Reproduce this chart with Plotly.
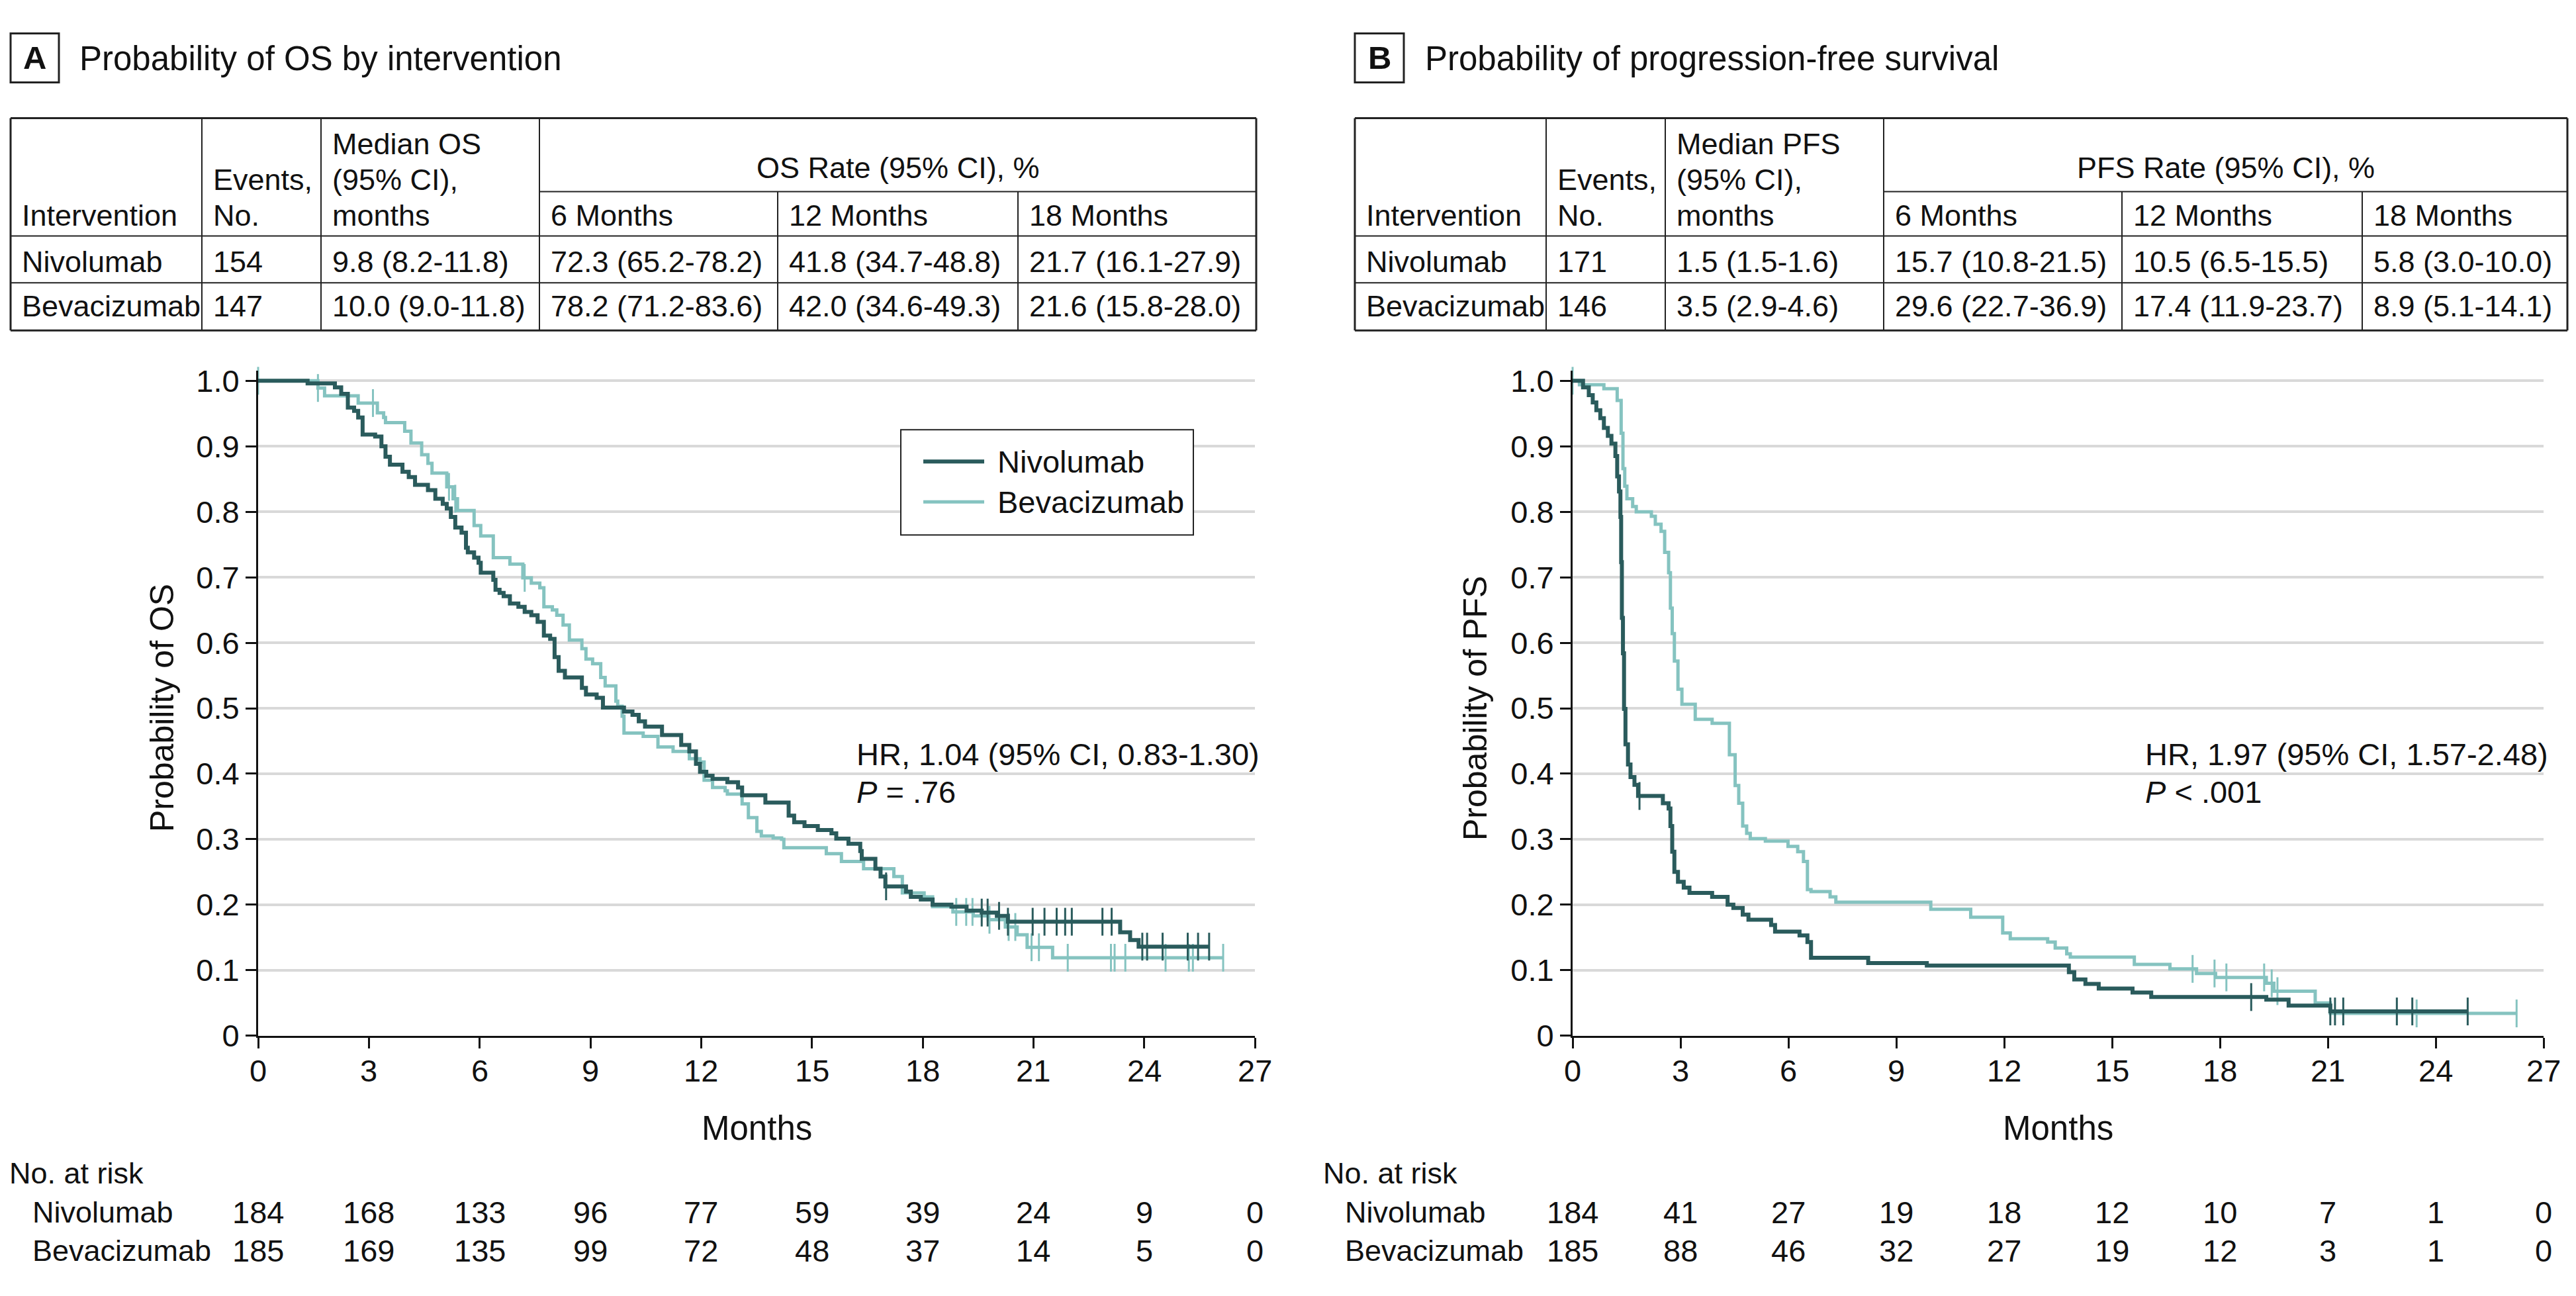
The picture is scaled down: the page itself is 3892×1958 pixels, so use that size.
import plotly.graph_objects as go

# ---------------- data ----------------
series_names = ["Nivolumab", "Bevacizumab"]

os_nivo_t = [0, 1.34, 2.08, 2.25, 2.43, 2.60, 2.71, 2.83, 3.17, 3.34, 3.45, 3.57, 3.91, 4.08, 4.25, 4.60,
             4.80, 5.00, 5.11, 5.22, 5.34, 5.51, 5.63, 5.68, 5.85, 5.97, 6.03, 6.37, 6.43, 6.54, 6.65, 6.82,
             7.05, 7.22, 7.40, 7.57, 7.74, 7.91, 8.03, 8.14, 8.31, 8.77, 8.88, 9.17, 9.34, 9.91, 10.14, 10.31,
             10.48, 10.94, 11.46, 11.68, 11.86, 11.97, 12.14, 12.31, 12.71, 13.00, 13.11, 13.74, 14.37, 14.52,
             14.80, 15.16, 15.53, 15.66, 15.99, 16.31, 16.35, 16.72, 16.86, 16.99, 17.55, 17.68, 17.95, 18.27,
             18.78, 19.19, 19.60, 20.01, 20.31, 23.35, 23.62, 23.85]
os_nivo_s = [1.0, 0.996, 0.990, 0.980, 0.959, 0.954, 0.944, 0.918, 0.915, 0.900, 0.884, 0.872, 0.861, 0.853,
             0.841, 0.833, 0.820, 0.812, 0.805, 0.792, 0.776, 0.768, 0.745, 0.738, 0.730, 0.722, 0.707, 0.696,
             0.681, 0.676, 0.671, 0.660, 0.655, 0.647, 0.642, 0.632, 0.611, 0.606, 0.578, 0.557, 0.547, 0.531,
             0.521, 0.516, 0.501, 0.495, 0.490, 0.480, 0.472, 0.459, 0.444, 0.434, 0.415, 0.403, 0.397, 0.392,
             0.387, 0.379, 0.367, 0.356, 0.336, 0.326, 0.320, 0.314, 0.309, 0.301, 0.293, 0.282, 0.270, 0.255,
             0.243, 0.228, 0.220, 0.212, 0.208, 0.200, 0.197, 0.191, 0.188, 0.183, 0.174, 0.158, 0.146, 0.136]
os_nivo_end = 25.76
os_nivo_cens = [17.01, 19.60, 19.76, 20.07, 20.31, 20.98, 21.30, 21.63, 21.86, 22.04, 22.87, 23.12, 23.95,
                24.08, 24.50, 25.18, 25.46, 25.76]

os_beva_t = [0, 1.62, 1.80, 2.71, 3.23, 3.40, 3.45, 3.97, 4.14, 4.43, 4.60, 4.71, 5.11, 5.28, 5.40, 5.85,
             6.03, 6.37, 6.82, 7.17, 7.40, 7.63, 7.74, 7.97, 8.09, 8.26, 8.43, 8.77, 8.88, 9.06, 9.28, 9.40,
             9.69, 9.74, 9.86, 9.91, 10.43, 10.83, 11.24, 11.68, 11.97, 12.08, 12.31, 12.65, 12.71, 13.11,
             13.28, 13.51, 13.63, 13.95, 14.18, 14.24, 15.39, 15.80, 16.40, 17.22, 17.45, 18.04, 18.27, 18.82,
             19.37, 19.78, 20.24, 20.56, 20.83, 21.52]
os_beva_s = [1.0, 0.989, 0.977, 0.966, 0.951, 0.944, 0.936, 0.923, 0.905, 0.887, 0.874, 0.859, 0.838, 0.820,
             0.802, 0.779, 0.763, 0.730, 0.720, 0.699, 0.691, 0.684, 0.655, 0.650, 0.642, 0.627, 0.604, 0.591,
             0.575, 0.568, 0.547, 0.534, 0.511, 0.503, 0.488, 0.462, 0.457, 0.441, 0.434, 0.423, 0.418, 0.390,
             0.379, 0.374, 0.369, 0.354, 0.333, 0.312, 0.305, 0.302, 0.300, 0.287, 0.278, 0.266, 0.255, 0.243,
             0.218, 0.212, 0.197, 0.189, 0.183, 0.177, 0.166, 0.154, 0.135, 0.119]
os_beva_end = 26.14
os_beva_cens = [0.0, 1.62, 3.11, 5.17, 5.34, 7.22, 18.91, 19.18, 19.35, 19.81, 20.33, 20.51, 20.95, 21.15,
                21.93, 23.10, 23.20, 23.49, 24.58, 25.21, 25.32, 26.14]

pfs_nivo_t = [0, 0.29, 0.45, 0.56, 0.66, 0.77, 0.87, 0.98, 1.08, 1.19, 1.24, 1.29, 1.33, 1.35, 1.37, 1.40,
              1.43, 1.47, 1.54, 1.61, 1.72, 1.82, 2.51, 2.67, 2.72, 2.77, 2.83, 2.93, 3.09, 3.25, 3.88, 4.31,
              4.47, 4.73, 4.89, 5.52, 5.63, 6.31, 6.53, 6.63, 8.22, 9.85, 13.80, 13.95, 14.26, 14.63, 15.57,
              16.09, 19.29, 19.91, 21.07]
pfs_nivo_s = [1.0, 0.990, 0.978, 0.967, 0.955, 0.943, 0.928, 0.916, 0.904, 0.885, 0.854, 0.831, 0.792, 0.723,
              0.638, 0.584, 0.499, 0.445, 0.414, 0.395, 0.383, 0.366, 0.355, 0.347, 0.320, 0.281, 0.250, 0.235,
              0.226, 0.218, 0.212, 0.200, 0.195, 0.185, 0.177, 0.169, 0.159, 0.153, 0.143, 0.119, 0.111, 0.107,
              0.097, 0.086, 0.079, 0.072, 0.066, 0.059, 0.055, 0.046, 0.037]
pfs_nivo_end = 24.89
pfs_nivo_cens = [1.86, 18.87, 21.07, 21.20, 21.43, 22.92, 23.35, 24.89]

pfs_beva_t = [0, 0.19, 0.87, 1.24, 1.35, 1.40, 1.45, 1.51, 1.67, 1.77, 2.19, 2.30, 2.46, 2.56, 2.67, 2.72,
              2.77, 2.83, 2.93, 3.04, 3.41, 3.88, 4.36, 4.52, 4.62, 4.73, 4.84, 4.94, 5.36, 5.99, 6.26, 6.42,
              6.53, 6.63, 7.16, 7.32, 9.96, 11.07, 11.96, 12.17, 13.21, 13.42, 13.74, 13.84, 15.62, 16.61,
              17.35, 17.88, 19.29, 19.50, 20.65, 21.07]
pfs_beva_s = [1.0, 0.994, 0.988, 0.970, 0.920, 0.866, 0.839, 0.820, 0.808, 0.800, 0.793, 0.781, 0.770, 0.738,
              0.707, 0.653, 0.614, 0.572, 0.529, 0.506, 0.483, 0.477, 0.429, 0.382, 0.355, 0.320, 0.309, 0.301,
              0.297, 0.289, 0.281, 0.266, 0.223, 0.220, 0.212, 0.204, 0.193, 0.181, 0.157, 0.148, 0.143, 0.134,
              0.125, 0.120, 0.109, 0.102, 0.095, 0.089, 0.080, 0.068, 0.050, 0.034]
pfs_beva_end = 26.25
pfs_beva_cens = [0.0, 17.24, 17.85, 18.18, 19.23, 19.44, 19.60, 23.47, 26.25]

os_header = ["Intervention", "Events,|No.", "Median OS|(95% CI),|months", "6 Months", "12 Months", "18 Months"]
os_span = "OS Rate (95% CI), %"
os_rows = [["Nivolumab", "154", "9.8 (8.2-11.8)", "72.3 (65.2-78.2)", "41.8 (34.7-48.8)", "21.7 (16.1-27.9)"],
           ["Bevacizumab", "147", "10.0 (9.0-11.8)", "78.2 (71.2-83.6)", "42.0 (34.6-49.3)", "21.6 (15.8-28.0)"]]
pfs_header = ["Intervention", "Events,|No.", "Median PFS|(95% CI),|months", "6 Months", "12 Months", "18 Months"]
pfs_span = "PFS Rate (95% CI), %"
pfs_rows = [["Nivolumab", "171", "1.5 (1.5-1.6)", "15.7 (10.8-21.5)", "10.5 (6.5-15.5)", "5.8 (3.0-10.0)"],
            ["Bevacizumab", "146", "3.5 (2.9-4.6)", "29.6 (22.7-36.9)", "17.4 (11.9-23.7)", "8.9 (5.1-14.1)"]]

risk_times = [0, 3, 6, 9, 12, 15, 18, 21, 24, 27]
os_risk_nivo = [184, 168, 133, 96, 77, 59, 39, 24, 9, 0]
os_risk_beva = [185, 169, 135, 99, 72, 48, 37, 14, 5, 0]
pfs_risk_nivo = [184, 41, 27, 19, 18, 12, 10, 7, 1, 0]
pfs_risk_beva = [185, 88, 46, 32, 27, 19, 12, 3, 1, 0]

x_ticks = [0, 3, 6, 9, 12, 15, 18, 21, 24, 27]
x_ticktext = ["0", "3", "6", "9", "12", "15", "18", "21", "24", "27"]
y_ticks = [0, 0.1, 0.2, 0.3, 0.4, 0.5, 0.6, 0.7, 0.8, 0.9, 1.0]
y_ticktext = ["0", "0.1", "0.2", "0.3", "0.4", "0.5", "0.6", "0.7", "0.8", "0.9", "1.0"]

hr_texts = [["HR, 1.04 (95% CI, 0.83-1.30)", "<i>P</i> = .76"],
            ["HR, 1.97 (95% CI, 1.57-2.48)", "<i>P</i> < .001"]]
titles = [("A", "Probability of OS by intervention"), ("B", "Probability of progression-free survival")]
y_titles = ["Probability of OS", "Probability of PFS"]

# ---------------- style ----------------
W, H = 3876, 1942                 # figure size in px
# observed placement of the figure in the final picture: picture = offset + scale * figure px
OX, SX, OY, SY = 8.0, 1.0, 17.4, 0.9815
FONT = "Liberation Sans, Arial, sans-serif"
FS = 47
FS_TAB = 45
DARK = "#2a5b5c"
LIGHT = "#85c3c0"
GRID = "#d9d9d9"
INK = "#111"


def px(x, clamp=False):
    v = (x - OX) / SX / W
    if clamp:
        v = min(max(v, 2.0 / W), 1 - 2.0 / W)
    return v


def py(y, clamp=False):
    v = 1 - (y - OY) / SY / H
    if clamp:
        v = min(max(v, 2.0 / H), 1 - 2.0 / H)
    return v


def text_ann(text, x, base, size=FS, anchor="left", bold=False):
    t = "<b>%s</b>" % text if bold else text
    xp = px(x)
    if anchor == "left":
        xp = max(xp, 0.0)
    return dict(x=xp, y=py(base - 0.35 * size), xref="paper", yref="paper", text=t, showarrow=False,
                xanchor=anchor, yanchor="middle",
                font=dict(size=size, color=INK, family=FONT))


def surv_at(times, surv, t):
    v = surv[0]
    for ti, si in zip(times, surv):
        if ti <= t:
            v = si
    return v


def hline(x0, x1, y, w):
    return dict(type="line", xref="paper", yref="paper", x0=px(x0, True), x1=px(x1, True),
                y0=py(y), y1=py(y), line=dict(color="#222", width=w))


def vline(x, y0, y1, w):
    return dict(type="line", xref="paper", yref="paper", x0=px(x, True), x1=px(x, True),
                y0=py(y0), y1=py(y1), line=dict(color="#222", width=w))


fig = go.Figure()
shapes = []
annotations = []

panels = [
    dict(xa="x", ya="y", x0=390, x1=1896,
         curves=[(os_nivo_t, os_nivo_s, os_nivo_end, os_nivo_cens, DARK, 6),
                 (os_beva_t, os_beva_s, os_beva_end, os_beva_cens, LIGHT, 5)],
         header=os_header, span=os_span, rows=os_rows,
         cols=[16, 305, 485, 815, 1175, 1538, 1898],
         risk=[os_risk_nivo, os_risk_beva], risk_lbl_x=(12, 47), hr_x=1292,
         box=(16, 89), title_x=118, ytitle_x=245),
    dict(xa="x2", ya="y2", x0=2376, x1=3843,
         curves=[(pfs_nivo_t, pfs_nivo_s, pfs_nivo_end, pfs_nivo_cens, DARK, 6),
                 (pfs_beva_t, pfs_beva_s, pfs_beva_end, pfs_beva_cens, LIGHT, 5)],
         header=pfs_header, span=pfs_span, rows=pfs_rows,
         cols=[2047, 2336, 2516, 2846, 3206, 3569, 3879],
         risk=[pfs_risk_nivo, pfs_risk_beva], risk_lbl_x=(1997, 2030), hr_x=3239,
         box=(2047, 2121), title_x=2151, ytitle_x=2229),
]

Y0PX, Y1PX = 1564, 574
YMAX = 1.015
ydom = [py(Y0PX), py(Y0PX - YMAX * (Y0PX - Y1PX))]

for i, p in enumerate(panels):
    for (tt, ss, tend, cens, col, lw) in reversed(p["curves"]):
        fig.add_trace(go.Scatter(x=tt + [tend], y=ss + [ss[-1]], mode="lines", line_shape="hv",
                                 line=dict(color=col, width=lw), xaxis=p["xa"], yaxis=p["ya"],
                                 showlegend=False, hoverinfo="skip"))
        fig.add_trace(go.Scatter(x=cens, y=[surv_at(tt, ss, c) for c in cens], mode="markers",
                                 marker=dict(symbol="line-ns", size=30, line=dict(width=3, color=col)),
                                 xaxis=p["xa"], yaxis=p["ya"], showlegend=False, hoverinfo="skip",
                                 cliponaxis=False))

    # panel title with boxed letter
    b0, b1 = p["box"]
    shapes.append(dict(type="rect", xref="paper", yref="paper", x0=px(b0, True), x1=px(b1, True),
                       y0=py(123), y1=py(49), line=dict(color="#222", width=3)))
    annotations.append(text_ann(titles[i][0], (b0 + b1) / 2, 103, size=49, anchor="center", bold=True))
    annotations.append(text_ann(titles[i][1], p["title_x"], 105, size=51))

    # summary table
    c = p["cols"]
    ry = [177, 288, 355, 426, 498]
    shapes.append(hline(c[0], c[6], ry[0], 3))
    shapes.append(hline(c[0], c[6], ry[4], 3))
    shapes.append(vline(c[0], ry[0], ry[4], 3))
    shapes.append(vline(c[6], ry[0], ry[4], 3))
    for yy in (ry[2], ry[3]):
        shapes.append(hline(c[0], c[6], yy, 2))
    shapes.append(hline(c[3], c[6], ry[1], 2))
    for k in (1, 2, 3):
        shapes.append(vline(c[k], ry[0], ry[4], 2))
    for k in (4, 5):
        shapes.append(vline(c[k], ry[1], ry[4], 2))
    for k, h in enumerate(p["header"]):
        lines = h.split("|")
        n = len(lines)
        for j, ln in enumerate(lines):
            base = 340 - (n - 1 - j) * 54
            annotations.append(text_ann(ln, c[k] + 15, base, size=FS_TAB))
    annotations.append(text_ann(p["span"], (c[3] + c[6]) / 2, 268, size=FS_TAB, anchor="center"))
    for r, row in enumerate(p["rows"]):
        base = [410, 477][r]
        for k, v in enumerate(row):
            annotations.append(text_ann(v, c[k] + 15, base, size=FS_TAB))

    # HR / P annotation
    annotations.append(text_ann(hr_texts[i][0], p["hr_x"], 1155))
    annotations.append(text_ann(hr_texts[i][1], p["hr_x"], 1212))

    # x tick labels placed on the axis scale
    for t, lab in zip(x_ticks, x_ticktext):
        annotations.append(dict(x=t, y=py(1633 - 0.35 * FS), xref=p["xa"], yref="paper", text=lab,
                                showarrow=False, xanchor="center", yanchor="middle",
                                font=dict(size=FS, color=INK, family=FONT)))

    # axis titles
    annotations.append(text_ann("Months", (p["x0"] + p["x1"]) / 2, 1722, size=51, anchor="center"))
    annotations.append(dict(x=px(p["ytitle_x"]), y=py((Y0PX + Y1PX) / 2), xref="paper", yref="paper",
                            text=y_titles[i], showarrow=False, xanchor="center", yanchor="middle",
                            textangle=-90, font=dict(size=50, color=INK, family=FONT)))

    # numbers at risk
    lx0, lx1 = p["risk_lbl_x"]
    annotations.append(text_ann("No. at risk", lx0, 1788, size=FS_TAB))
    for r, vals in enumerate(p["risk"]):
        base = [1847, 1905][r]
        annotations.append(text_ann(series_names[r], lx1, base, size=FS_TAB))
        for t, v in zip(risk_times, vals):
            annotations.append(dict(x=t, y=py(base - 0.35 * FS), xref=p["xa"], yref="paper", text=str(v),
                                    showarrow=False, xanchor="center", yanchor="middle",
                                    font=dict(size=FS, color=INK, family=FONT)))

# legend box (panel A)
shapes.append(dict(type="rect", xref="paper", yref="paper", x0=px(1361), x1=px(1803), y0=py(807), y1=py(648),
                   line=dict(color="#222", width=2), fillcolor="white", layer="above"))
for j, (col, lw, yy) in enumerate([(DARK, 6, 696), (LIGHT, 5, 757)]):
    shapes.append(dict(type="line", xref="paper", yref="paper", x0=px(1395), x1=px(1487), y0=py(yy), y1=py(yy),
                       line=dict(color=col, width=lw), layer="above"))
    annotations.append(dict(x=px(1505), y=py(yy), xref="paper", yref="paper", text=series_names[j],
                            showarrow=False, xanchor="left", yanchor="middle",
                            font=dict(size=FS, color=INK, family=FONT)))

axis_common = dict(range=[0, 27], tickvals=x_ticks, ticks="outside", ticklen=16, tickwidth=3, tickcolor=INK,
                   showline=True, linewidth=3, linecolor=INK, showgrid=False, zeroline=False,
                   showticklabels=False, fixedrange=True)
yaxis_common = dict(range=[0, YMAX], tickvals=y_ticks, ticktext=y_ticktext, ticks="outside", ticklen=16,
                    tickwidth=3, tickcolor=INK, showline=True, linewidth=3, linecolor=INK, showgrid=True,
                    gridcolor=GRID, gridwidth=4, zeroline=False, domain=ydom,
                    tickfont=dict(size=FS, color=INK, family=FONT), fixedrange=True)

fig.update_layout(
    width=W, height=H, autosize=False, margin=dict(l=0, r=0, t=0, b=0),
    paper_bgcolor="white", plot_bgcolor="white", showlegend=False,
    font=dict(family=FONT, size=FS, color=INK),
    xaxis=dict(axis_common, domain=[px(panels[0]["x0"]), px(panels[0]["x1"])], anchor="y"),
    yaxis=dict(yaxis_common, anchor="x"),
    xaxis2=dict(axis_common, domain=[px(panels[1]["x0"]), px(panels[1]["x1"])], anchor="y2"),
    yaxis2=dict(yaxis_common, anchor="x2"),
    shapes=shapes, annotations=annotations,
)

fig.write_html("out.html")
